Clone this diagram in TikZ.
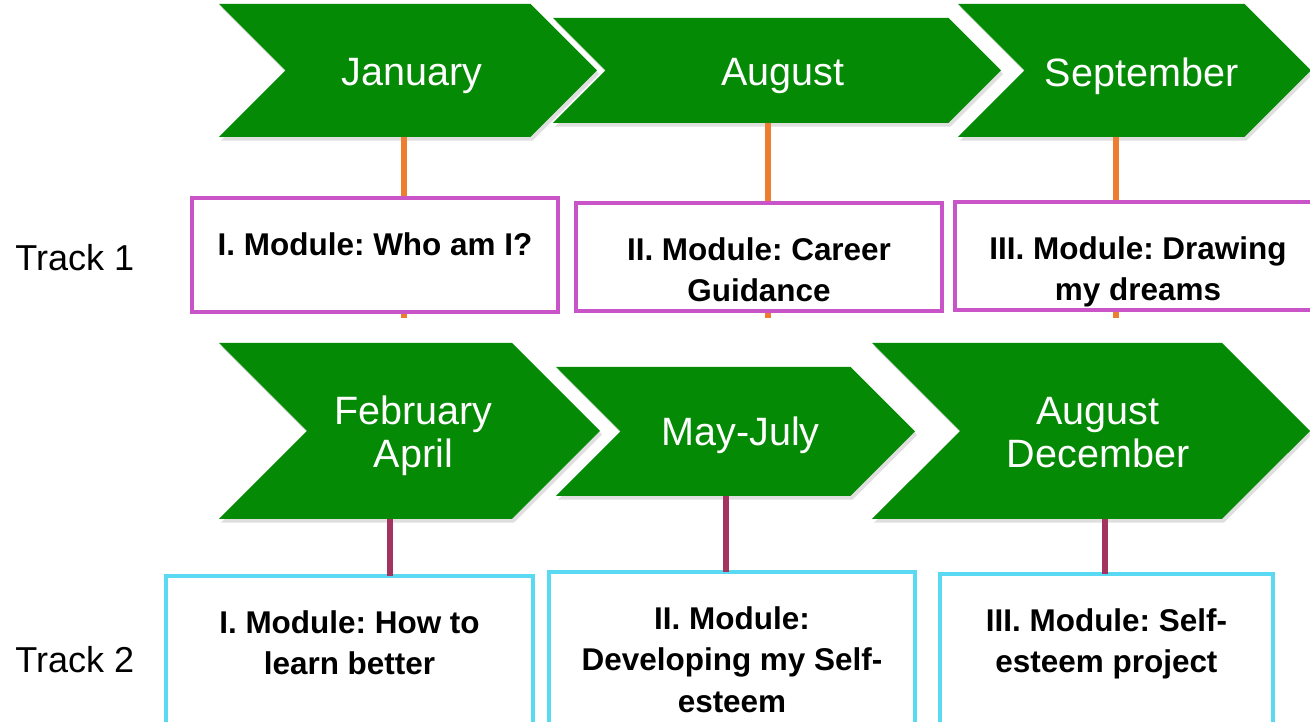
\documentclass[tikz,border=0pt]{standalone}
\usepackage{fontspec}
\setmainfont{Liberation Sans}
\usetikzlibrary{calc,positioning,shapes.symbols,shadows}

\definecolor{chevgreen}{RGB}{4,138,4}
\definecolor{lineorange}{RGB}{237,125,49}
\definecolor{linemaroon}{RGB}{163,52,96}
\definecolor{boxmagenta}{RGB}{200,84,200}
\definecolor{boxcyan}{RGB}{90,218,242}

\tikzset{
	month/.style={signal, signal from=west, signal to=east, fill=chevgreen, inner sep=0pt,
		drop shadow={shadow xshift=1.2pt, shadow yshift=-2pt, opacity=0.25}},
	monthtext/.style={text=white, inner sep=0pt, align=center,
		font=\fontsize{22.5}{24.4}\selectfont},
	modbox/.style={draw, fill=white, line width=2.3pt, outer sep=0pt,
		minimum width=7.32cm, anchor=north},
	modtext/.style={align=center, inner sep=0pt,
		font=\fontsize{17.9}{23.8}\selectfont\bfseries\frenchspacing},
	track/.style={anchor=base west, inner sep=0pt, font=\fontsize{20.5}{24}\selectfont},
}

\begin{document}
\begin{tikzpicture}
		\useasboundingbox (0,0) rectangle (26.2,14.44);

		% track 1
		\node[month, minimum width=7.56cm, minimum height=2.66cm] (jan) at ( 8.16,13.03) {};
		\node[month, minimum width=8.96cm, minimum height=2.10cm] (aug) at (15.54,13.03) {};
		\node[month, minimum width=7.06cm, minimum height=2.66cm] (sep) at (22.69,13.03) {};
		\node[monthtext] (janl) at ([shift={(0.08,-0.12)}]jan.center) {January};
		\node[monthtext] (augl) at ([shift={(0.12,-0.12)}]aug.center) {August};
		\node[monthtext] (sepl) at ([shift={(0.14,-0.12)}]sep.center) {September};

		\coordinate (o1) at ( 8.08,8.08);
		\coordinate (o2) at (15.36,8.08);
		\coordinate (o3) at (22.32,8.08);
		\draw[lineorange, line width=2.9pt] (jan.south -| o1) -- (o1);
		\draw[lineorange, line width=2.9pt] (aug.south -| o2) -- (o2);
		\draw[lineorange, line width=2.9pt] (sep.south -| o3) -- (o3);

		\node[modbox, draw=boxmagenta, minimum height=2.28cm] (m1) at ( 7.50,10.48) {};
		\node[modbox, draw=boxmagenta, minimum height=2.16cm] (m2) at (15.18,10.38) {};
		\node[modbox, draw=boxmagenta, minimum height=2.16cm] (m3) at (22.76,10.40) {};
		\node[modtext, below=0.68cm of m1.north] (t1) {I. Module: Who am I?};
		\node[modtext, below=0.68cm of m2.north] (t2) {II. Module: Career\\Guidance};
		\node[modtext, below=0.68cm of m3.north] (t3) {III. Module: Drawing\\my dreams};

		% track 2
		\node[month, minimum width=7.62cm, minimum height=3.52cm] (feb) at ( 8.19,5.82) {};
		\node[month, minimum width=7.18cm, minimum height=2.58cm] (may) at (14.71,5.81) {};
		\node[month, minimum width=8.76cm, minimum height=3.52cm] (dec) at (21.82,5.82) {};
		\node[monthtext] (febl) at ([shift={(0.08,-0.09)}]feb.center) {February\\April};
		\node[monthtext] (mayl) at ([shift={(0.10,-0.08)}]may.center) {May-July};
		\node[monthtext] (decl) at ([shift={(0.14,-0.03)}]dec.center) {August\\December};

		\node[modbox, draw=boxcyan, minimum width=7.34cm, minimum height=3.3cm] (n1) at ( 6.99,2.92) {};
		\node[modbox, draw=boxcyan, minimum height=3.3cm] (n2) at (14.64,3.00) {};
		\node[modbox, draw=boxcyan, minimum width=6.66cm, minimum height=3.3cm] (n3) at (22.13,2.96) {};
		\node[modtext, below=0.68cm of n1.north] (u1) {I. Module: How to\\learn better};
		\node[modtext, below=0.68cm of n2.north] (u2) {II. Module:\\Developing my Self-\\esteem};
		\node[modtext, below=0.68cm of n3.north] (u3) {III. Module: Self-\\esteem project};

		\coordinate (p1) at ( 7.80,0);
		\coordinate (p2) at (14.52,0);
		\coordinate (p3) at (22.10,0);
		\draw[linemaroon, line width=3pt] (feb.south -| p1) -- (n1.north -| p1);
		\draw[linemaroon, line width=3pt] (may.south -| p2) -- (n2.north -| p2);
		\draw[linemaroon, line width=3pt] (dec.south -| p3) -- (n3.north -| p3);

		\node[track] (tr1) at (0.30,9.02) {Track 1};
		\node[track] (tr2) at (0.30,0.98) {Track 2};

	\end{tikzpicture}
\end{document}
